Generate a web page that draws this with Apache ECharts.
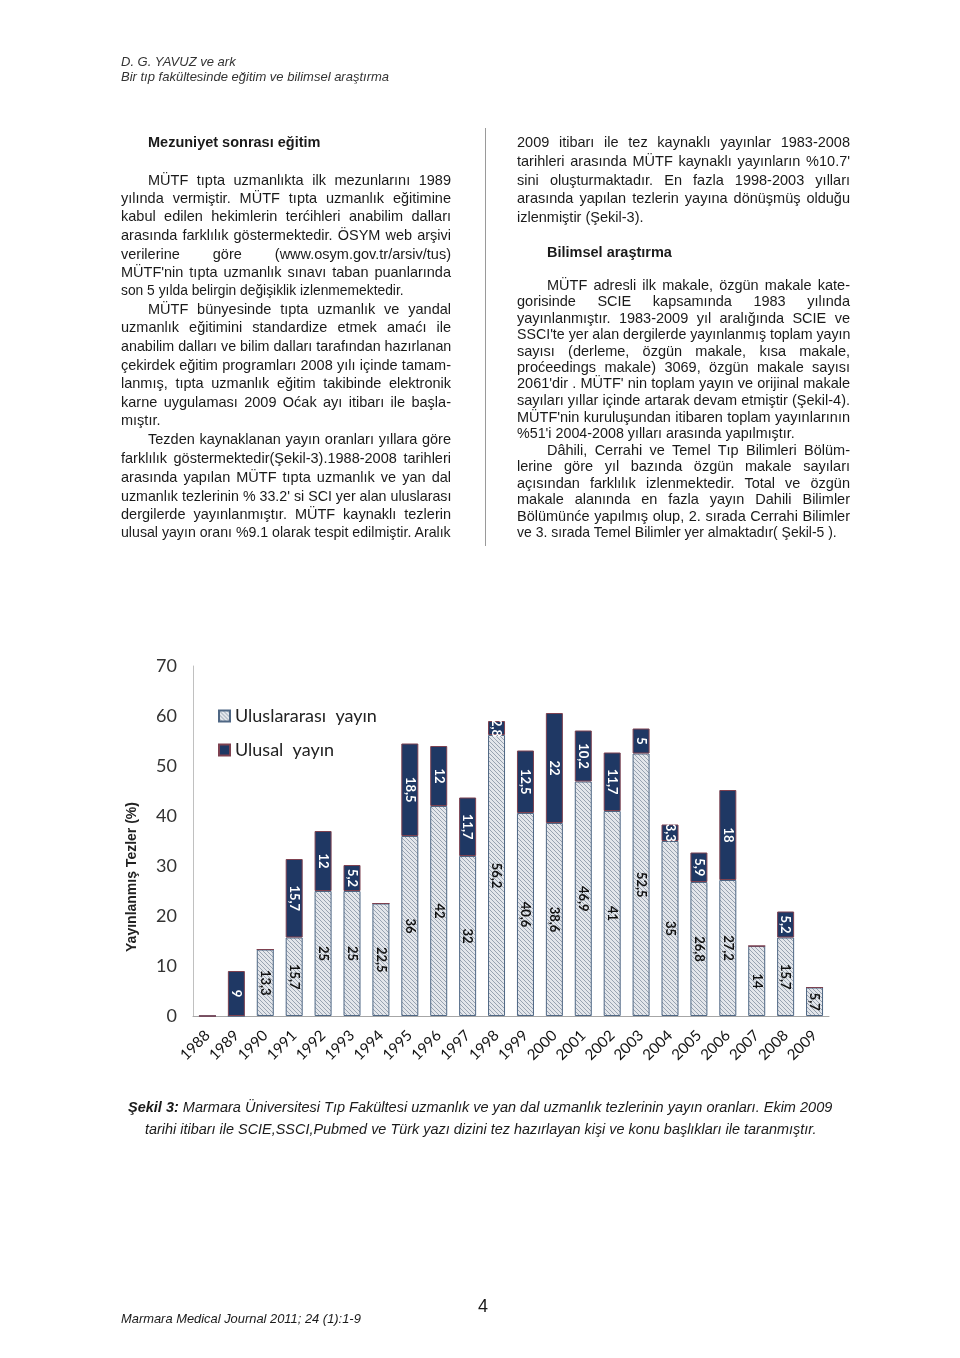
<!DOCTYPE html>
<html>
<head>
<meta charset="utf-8">
<script src="https://cdn.jsdelivr.net/npm/echarts@6/dist/echarts.min.js"></script>
<style>
  html, body { margin:0; padding:0; background:#fff; }
  body { width:960px; height:1358px; position:relative; overflow:hidden; font-family:"Liberation Sans", Arial, sans-serif; color:#1a1a1a; }
  #chart { position:absolute; left:0; top:0; width:960px; height:1358px; }
  .ln { position:absolute; white-space:nowrap; line-height:1.2; }
  .rule { position:absolute; left:485px; top:128px; width:1px; height:418px; background:#9a9a9a; }
</style>
</head>
<body>
<div id="chart"></div>
<div class="rule"></div>
<div id="text"></div>
<script>
// ---- chart data ----
const years = ['1988','1989','1990','1991','1992','1993','1994','1995','1996','1997','1998','1999','2000','2001','2002','2003','2004','2005','2006','2007','2008','2009'];
const international = [0, 0, 13.3, 15.7, 25, 25, 22.5, 36, 42, 32, 56.2, 40.6, 38.6, 46.9, 41, 52.5, 35, 26.8, 27.2, 14, 15.7, 5.7];
const national = [0, 9, 0, 15.7, 12, 5.2, 0, 18.5, 12, 11.7, 2.8, 12.5, 22, 10.2, 11.7, 5, 3.3, 5.9, 18, 0, 5.2, 0];
const yTicks = [0, 10, 20, 30, 40, 50, 60, 70];
const seriesNames = ['Uluslararası  yayın', 'Ulusal  yayın'];
const yAxisTitle = 'Yayınlanmış Tezler (%)';

// ---- page text ----
const pageLines = [
  // [text, x, y(top), width or 0, justify, style]
  ['D. G. YAVUZ ve ark', 121, 54, 0, false, 'i'],
  ['Bir tıp fakültesinde eğitim ve bilimsel araştırma', 121, 69, 0, false, 'i'],
  ['Mezuniyet sonrası eğitim', 148, 134, 0, false, 'b'],
  ['MÜTF tıpta uzmanlıkta ilk mezunlarını 1989', 148, 172, 303, true, ''],
  ['yılında vermiştir. MÜTF tıpta uzmanlık eğitimine', 121, 190, 330, true, ''],
  ['kabul edilen hekimlerin terćihleri anabilim dalları', 121, 208, 330, true, ''],
  ['arasında farklılık göstermektedir. ÖSYM web arşivi', 121, 227, 330, true, ''],
  ['verilerine göre (www.osym.gov.tr/arsiv/tus)', 121, 246, 330, true, ''],
  ['MÜTF\'nin tıpta uzmanlık sınavı taban puanlarında', 121, 264, 330, true, ''],
  ['son 5 yılda belirgin değişiklik izlenmemektedir.', 121, 282, 283, false, ''],
  ['MÜTF bünyesinde tıpta uzmanlık ve yandal', 148, 301, 303, true, ''],
  ['uzmanlık eğitimini standardize etmek amaćı ile', 121, 319, 330, true, ''],
  ['anabilim dalları ve bilim dalları tarafından hazırlanan', 121, 338, 330, true, ''],
  ['çekirdek eğitim programları 2008 yılı içinde tamam-', 121, 357, 330, true, ''],
  ['lanmış, tıpta uzmanlık eğitim takibinde elektronik', 121, 375, 330, true, ''],
  ['karne uygulaması 2009 Oćak ayı itibarı ile başla-', 121, 394, 330, true, ''],
  ['mıştır.', 121, 412, 0, false, ''],
  ['Tezden kaynaklanan yayın oranları  yıllara göre', 148, 431, 303, true, ''],
  ['farklılık göstermektedir(Şekil-3).1988-2008 tarihleri', 121, 450, 330, true, ''],
  ['arasında yapılan MÜTF tıpta uzmanlık ve yan dal', 121, 469, 330, true, ''],
  ['uzmanlık tezlerinin % 33.2\' si SCI yer alan uluslarası', 121, 488, 330, true, ''],
  ['dergilerde yayınlanmıştır. MÜTF kaynaklı tezlerin', 121, 506, 330, true, ''],
  ['ulusal yayın oranı %9.1 olarak tespit edilmiştir. Aralık', 121, 524, 330, true, ''],
  ['2009 itibarı ile tez kaynaklı yayınlar 1983-2008', 517, 134, 333, true, ''],
  ['tarihleri arasında MÜTF kaynaklı yayınların %10.7\'', 517, 153, 333, true, ''],
  ['sini  oluşturmaktadır. En fazla 1998-2003 yılları', 517, 172, 333, true, ''],
  ['arasında yapılan tezlerin yayına dönüşmüş olduğu', 517, 190, 333, true, ''],
  ['izlenmiştir (Şekil-3).', 517, 209, 0, false, ''],
  ['Bilimsel araştırma', 547, 244, 0, false, 'b'],
  ['MÜTF adresli ilk makale, özgün makale kate-', 547, 277, 303, true, ''],
  ['gorisinde SCIE kapsamında 1983 yılında', 517, 293, 333, true, ''],
  ['yayınlanmıştır. 1983-2009 yıl aralığında SCIE ve', 517, 310, 333, true, ''],
  ['SSCI\'te yer alan dergilerde yayınlanmış toplam yayın', 517, 326, 333, true, ''],
  ['sayısı (derleme, özgün makale, kısa makale,', 517, 343, 333, true, ''],
  ['proćeedings makale) 3069, özgün makale sayısı', 517, 359, 333, true, ''],
  ['2061\'dir . MÜTF\' nin toplam yayın ve orijinal makale', 517, 375, 333, true, ''],
  ['sayıları yıllar içinde artarak devam etmiştir (Şekil-4).', 517, 392, 333, true, ''],
  ['MÜTF\'nin kuruluşundan itibaren toplam yayınlarının', 517, 409, 333, true, ''],
  ['%51\'i 2004-2008 yılları arasında yapılmıştır.', 517, 425, 278, false, ''],
  ['Dâhili, Cerrahi ve Temel Tıp Bilimleri Bölüm-', 547, 442, 303, true, ''],
  ['lerine göre yıl bazında özgün makale sayıları', 517, 458, 333, true, ''],
  ['açısından farklılık izlenmektedir. Total ve özgün', 517, 475, 333, true, ''],
  ['makale alanında en fazla yayın Dahili Bilimler', 517, 491, 333, true, ''],
  ['Bölümünće yapılmış olup, 2. sırada Cerrahi Bilimler', 517, 508, 333, true, ''],
  ['ve 3. sırada Temel Bilimler yer almaktadır( Şekil-5 ).', 517, 524, 320, false, ''],
  ['<b>Şekil 3:</b> Marmara Üniversitesi Tıp Fakültesi uzmanlık ve yan dal uzmanlık tezlerinin yayın oranları. Ekim 2009', 128, 1099, 704, false, 'c'],
  ['tarihi itibarı ile SCIE,SSCI,Pubmed ve Türk yazı dizini tez hazırlayan kişi ve konu başlıkları ile taranmıştır.', 145, 1121, 672, false, 'c'],
  ['Marmara Medical Journal 2011; 24 (1):1-9', 121, 1311, 240, false, 'f'],
  ['4', 478, 1296, 0, false, 'n']
];

const holder = document.getElementById('text');
pageLines.forEach(([t, x, y, w, just, st]) => {
  const d = document.createElement('div');
  d.className = 'ln';
  d.innerHTML = t;
  d.style.left = x + 'px';
  d.style.top = y + 'px';
  let fs = 14.5;
  if (st === 'i') { d.style.fontStyle = 'italic'; fs = 13; d.style.color = '#333'; }
  if (st === 'b') { d.style.fontWeight = 'bold'; fs = 14.5; }
  if (st === 'c') { d.style.fontStyle = 'italic'; fs = 14; }
  if (st === 'f') { d.style.fontStyle = 'italic'; fs = 13; }
  if (st === 'n') { fs = 18; }
  d.style.fontSize = fs + 'px';
  holder.appendChild(d);
  if (w) {
    const nat = d.scrollWidth;
    if (nat > w || !just) {
      d.style.transformOrigin = 'left top';
      d.style.transform = 'scaleX(' + (w / nat) + ')';
    } else {
      d.style.width = w + 'px';
      d.style.whiteSpace = 'normal';
      d.style.textAlign = 'justify';
      d.style.textAlignLast = 'justify';
    }
  }
});

// ---- hatched pattern ----
function hatch() {
  const c = document.createElement('canvas');
  c.width = 4; c.height = 4;
  const g = c.getContext('2d');
  g.fillStyle = '#e3e6eb';
  g.fillRect(0, 0, 4, 4);
  g.fillStyle = '#98a3b1';
  for (let i = 0; i < 4; i++) g.fillRect(i, i, 1, 1);
  return c;
}
const pat = { image: hatch(), repeat: 'repeat' };
const fmt = p => (p.value > 0 ? String(p.value).replace('.', ',') : '');

const chart = echarts.init(document.getElementById('chart'), null, { renderer: 'canvas' });
chart.setOption({
  animation: false,
  backgroundColor: 'transparent',
  textStyle: { fontFamily: 'Lato' },
  grid: { left: 193, right: 131, top: 666, bottom: 342, containLabel: false },
  legend: {
    orient: 'vertical', left: 213, top: 702, itemGap: 16,
    itemWidth: 11, itemHeight: 11, icon: 'rect',
    textStyle: { fontSize: 18, color: '#222', fontFamily: 'Lato' },
    data: seriesNames
  },
  xAxis: {
    type: 'category', data: years,
    axisTick: { show: false },
    axisLine: { lineStyle: { color: '#a6a6a6', width: 1 } },
    axisLabel: { rotate: 45, interval: 0, fontSize: 15, color: '#111', margin: 17, fontFamily: 'Lato' }
  },
  yAxis: {
    type: 'value', min: yTicks[0], max: yTicks[yTicks.length - 1], interval: 10,
    axisLine: { show: true, lineStyle: { color: '#c0c0c0', width: 1 } },
    axisTick: { show: false },
    splitLine: { show: false },
    axisLabel: { fontSize: 18, color: '#333', margin: 16, fontFamily: 'Lato' }
  },
  graphic: [{
    type: 'text', x: 132, y: 877, rotation: Math.PI / 2,
    style: { text: yAxisTitle, font: 'bold 14px "Liberation Sans", Arial', fill: '#222', textAlign: 'center', textVerticalAlign: 'middle' }
  }],
  series: [
    {
      name: seriesNames[0], type: 'bar', stack: 'total', data: international, barWidth: 17,
      itemStyle: { color: pat, borderColor: '#4f6784', borderWidth: 1 },
      label: { show: true, position: 'inside', rotate: -90, formatter: fmt, color: '#111', fontWeight: 'bold', fontSize: 13, fontFamily: 'Lato' }
    },
    {
      name: seriesNames[1], type: 'bar', stack: 'total', data: national, barWidth: 17,
      itemStyle: { color: '#1f3864', borderColor: '#7d4150', borderWidth: 1 },
      label: { show: true, position: 'inside', rotate: -90, formatter: fmt, color: '#fff', fontWeight: 'bold', fontSize: 13, fontFamily: 'Lato' }
    }
  ]
});
</script>
</body>
</html>
